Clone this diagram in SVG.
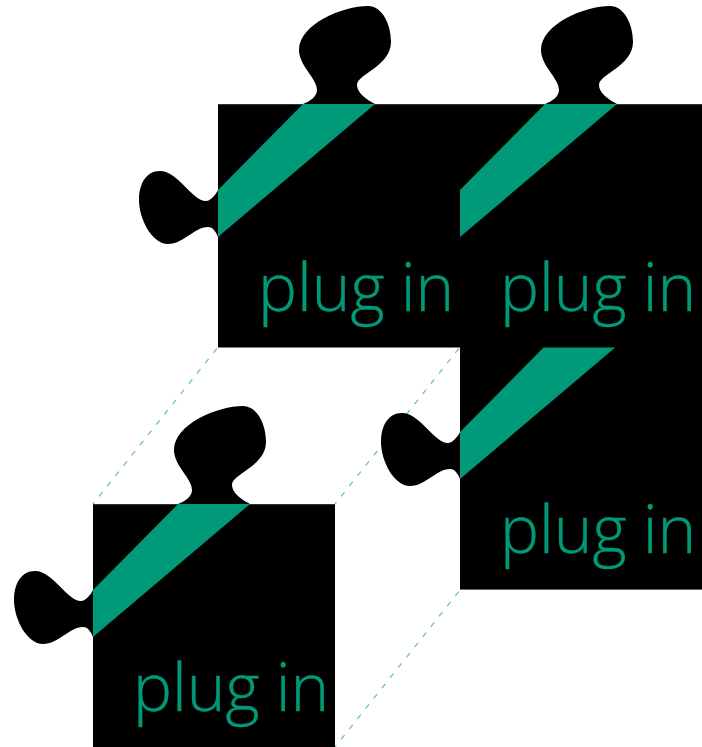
<svg xmlns="http://www.w3.org/2000/svg" width="702" height="747" viewBox="0 0 702 747">
<style>
.sq{fill:#000}
.gr{fill:#009a78}
.t{font-family:"Open Sans","Noto Sans",sans-serif;font-weight:300;font-size:65.6px;word-spacing:-1px;fill:#009a78;stroke:#009a78;stroke-width:.4px}
.d{fill:none;stroke:#66c3ad;stroke-width:1.3;stroke-dasharray:5.5 7.6;stroke-dashoffset:-2}
</style>
<defs>
<path id="tabs" d="M85 0C93 -3 99 -8 99 -14C99 -26 81 -38 81 -54C81 -80 125 -98 150 -98C164 -98 173 -80 173 -62C173 -38 139 -30 139 -19C139 -11 149 -4 157 0ZM0 86C-3 92 -8 97 -12 97C-26 97 -40 67 -58 67C-72 67 -79 80 -79 96C-79 115 -66 140 -50 140C-34 140 -24 123 -10 123C-5 123 -2 128 0 133Z"/>
<path id="band" d="M85 0H157L0 133V86Z"/>
</defs>
<g id="connectors">
<path class="d" d="M218 347L93 504"/>
<path class="d" d="M460 347L335 504"/>
<path class="d" d="M460 590L335 747"/>
</g>
<g id="piece-c"><rect class="sq" x="460" y="346" width="242" height="243.6"/><use href="#tabs" x="460" y="346"/><use class="gr" href="#band" x="460" y="346"/><text class="t" x="500" y="553">plug in</text></g>
<g id="piece-a"><rect class="sq" x="218" y="104.2" width="242" height="243.3"/><use href="#tabs" x="218" y="104"/><use class="gr" href="#band" x="218" y="104"/><text class="t" x="258" y="311">plug in</text></g>
<g id="piece-b"><rect class="sq" x="460" y="104.2" width="242" height="243.3"/><use href="#tabs" x="460" y="104"/><use class="gr" href="#band" x="460" y="104"/><text class="t" x="500" y="311">plug in</text></g>
<g id="piece-d"><rect class="sq" x="93" y="504.2" width="242" height="243"/><use href="#tabs" x="93" y="504"/><use class="gr" href="#band" x="93" y="504"/><text class="t" x="133" y="711">plug in</text></g>
</svg>
